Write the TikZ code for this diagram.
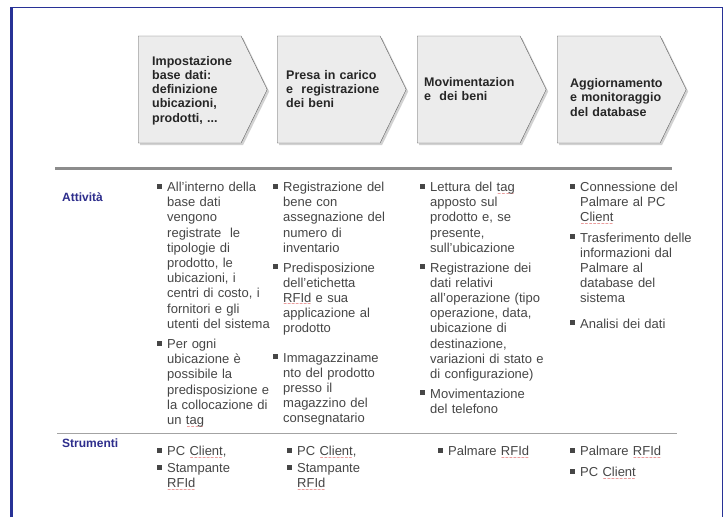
\documentclass[tikz,border=0pt]{standalone}
\usepackage{fontspec}
\setmainfont{Liberation Sans}
\newfontfamily\simbolo{DejaVu Sans}
\usetikzlibrary{shapes.symbols,shadows}
\definecolor{cornice}{RGB}{40,50,150}
\definecolor{fasefill}{RGB}{236,236,236}
\definecolor{fasebordo}{RGB}{95,95,95}
\definecolor{etichetta}{RGB}{45,45,140}
\definecolor{testo}{RGB}{70,70,70}
\definecolor{riga}{RGB}{140,140,140}
\newcommand{\blt}{\leavevmode\llap{\rule[3pt]{5pt}{5pt}\hspace{5pt}}}
\newcommand{\spl}[1]{\leavevmode\setbox0\hbox{#1}\rlap{\raisebox{-3.5pt}{\hbox to\wd0{\color{red!80!black}\xleaders\hbox{\simbolo\fontsize{4.5}{5}\selectfont ∼}\hfil}}}#1}
\tikzset{
  fase/.style={signal, signal to=east, signal from=nowhere, signal pointer angle=128,
    draw=fasebordo, fill=fasefill, minimum width=129pt, minimum height=107pt, inner sep=0pt,
    drop shadow={shadow xshift=2pt, shadow yshift=-2pt, fill=black!35, opacity=.5}},
  fasetesto/.style={anchor=base west, text width=115pt, align=left, inner sep=0pt,
    font=\bfseries\fontsize{12.5}{14.3}\selectfont, text=black!85},
  voce/.style={anchor=base west, text width=150pt, align=left, inner sep=0pt,
    font=\fontsize{13}{15.2}\selectfont, text=testo},
  sezione/.style={anchor=base west, inner sep=0pt, font=\bfseries\fontsize{12}{14}\selectfont, text=etichetta}
}
\begin{document}
\begin{tikzpicture}[x=1pt,y=-1pt]
\useasboundingbox (0,0) rectangle (728,517);
\fill[white] (0,0) rectangle (728,517);
% cornice
\draw[cornice, line width=3pt] (11.5,517) -- (11.5,7.5);
\draw[cornice, line width=1.8pt] (10,7.5) -- (722.5,7.5) -- (722.5,517);

% fasi
\node[fase, anchor=west] (imp) at (138,89.5) {};
\node[fase, anchor=west] (presa) at (277,89.5) {};
\node[fase, anchor=west] (mov) at (417,89.5) {};
\node[fase, anchor=west] (agg) at (557,89.5) {};
\node[fasetesto] (imptxt) at (152,65) {Impostazione\\base dati:\\definizione\\ubicazioni,\\prodotti, ...};
\node[fasetesto] (presatxt) at (286,79) {Presa in carico\\e\ \ registrazione\\dei beni};
\node[fasetesto] (movtxt) at (424,86.5) {Movimentazion\\e\ \ dei beni};
\node[fasetesto] (aggtxt) at (570,87.5) {Aggiornamento\\e monitoraggio\\del database};

\draw[riga, line width=3pt] (55,168) -- (672,168);
\draw[riga!80, line width=1pt] (57,433) -- (677,433);

% attivita
\node[sezione] (att) at (62,201) {Attività};
\node[voce] (att1a) at (167,191.5) {\blt All'interno della\\base dati\\vengono\\registrate\ \ le\\tipologie di\\prodotto, le\\ubicazioni, i\\centri di costo, i\\fornitori e gli\\utenti del sistema};
\node[voce] (att1b) at (167,348.5) {\blt Per ogni\\ubicazione è\\possibile la\\predisposizione e\\la collocazione di\\un \spl{tag}};
\node[voce] (att2a) at (283,191.5) {\blt Registrazione del\\bene con\\assegnazione del\\numero di\\inventario};
\node[voce] (att2b) at (283,272) {\blt Predisposizione\\dell'etichetta\\\spl{RFId} e sua\\applicazione al\\prodotto};
\node[voce] (att2c) at (283,362) {\blt Immagazziname\\nto del prodotto\\presso il\\magazzino del\\consegnatario};
\node[voce] (att3a) at (430,191.5) {\blt Lettura del \spl{tag}\\apposto sul\\prodotto e, se\\presente,\\sull'ubicazione};
\node[voce] (att3b) at (430,272) {\blt Registrazione dei\\dati relativi\\all'operazione (tipo\\operazione, data,\\ubicazione di\\destinazione,\\variazioni di stato e\\di configurazione)};
\node[voce] (att3c) at (430,398) {\blt Movimentazione\\del telefono};
\node[voce] (att4a) at (580,191.5) {\blt Connessione del\\Palmare al PC\\\spl{Client}};
\node[voce] (att4b) at (580,242) {\blt Trasferimento delle\\informazioni dal\\Palmare al\\database del\\sistema};
\node[voce] (att4c) at (580,328) {\blt Analisi dei dati};

% strumenti
\node[sezione] (str) at (62,447) {Strumenti};
\node[voce] (str1a) at (167,455.5) {\blt PC \spl{Client},};
\node[voce] (str1b) at (167,472.5) {\blt Stampante\\\spl{RFId}};
\node[voce] (str2a) at (297,455.5) {\blt PC \spl{Client},};
\node[voce] (str2b) at (297,472.5) {\blt Stampante\\\spl{RFId}};
\node[voce] (str3a) at (448,455.5) {\blt Palmare \spl{RFId}};
\node[voce] (str4a) at (580,455.5) {\blt Palmare \spl{RFId}};
\node[voce] (str4b) at (580,476.5) {\blt PC \spl{Client}};
\end{tikzpicture}
\end{document}
